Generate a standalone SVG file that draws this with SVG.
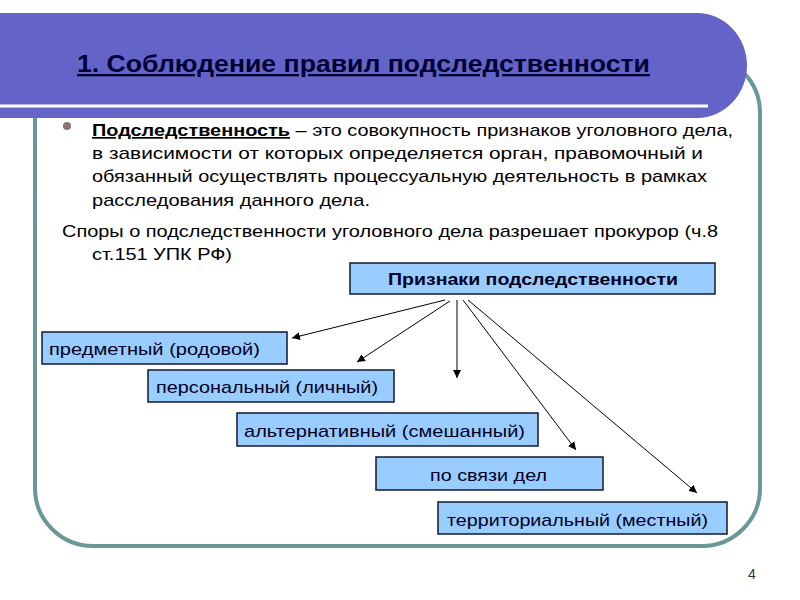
<svg xmlns="http://www.w3.org/2000/svg" width="800" height="600" viewBox="0 0 800 600">
<defs>
<style>
.body{font-family:"Liberation Sans",Arial,sans-serif;font-size:17px;fill:#000}
.box rect{fill:#99CCFF;stroke:#101830;stroke-width:1.5}
.box text{font-family:"Liberation Sans",Arial,sans-serif;font-size:17px;fill:#000022}
.conn path{fill:none;stroke:#000;stroke-width:1}
</style>
<marker id="ah" viewBox="0 0 10 10" refX="10" refY="5" markerWidth="8" markerHeight="8" markerUnits="userSpaceOnUse" orient="auto">
<path d="M0,0 L10,5 L0,10 Z" fill="#000"/>
</marker>
</defs>
<rect width="800" height="600" fill="#fff"/>
<rect id="frame" x="35" y="55" width="725" height="491" rx="58" ry="58" fill="none" stroke="#6B9797" stroke-width="4"/>
<g id="titlebar">
<path d="M0,13 H697 A50,52.5 0 0 1 697,118 H0 Z" fill="#6464C8"/>
<rect x="0" y="104.5" width="708" height="3" fill="#fff"/>
<text x="77" y="72" font-family="'Liberation Sans',Arial,sans-serif" font-size="23" font-weight="bold" fill="#000033" text-decoration="underline" textLength="573" lengthAdjust="spacingAndGlyphs">1. Соблюдение правил подследственности</text>
</g>
<g id="definition">
<circle cx="67" cy="126" r="4" fill="#8C7373"/>
<text class="body" x="92" y="136" textLength="641" lengthAdjust="spacingAndGlyphs"><tspan font-weight="bold" text-decoration="underline">Подследственность</tspan> – это совокупность признаков уголовного дела,</text>
<text class="body" x="92" y="159" textLength="611" lengthAdjust="spacingAndGlyphs">в зависимости от которых определяется орган, правомочный и</text>
<text class="body" x="92" y="182" textLength="615" lengthAdjust="spacingAndGlyphs">обязанный осуществлять процессуальную деятельность в рамках</text>
<text class="body" x="92" y="206" textLength="278" lengthAdjust="spacingAndGlyphs">расследования данного дела.</text>
<text class="body" x="62" y="237" textLength="656" lengthAdjust="spacingAndGlyphs">Споры о подследственности уголовного дела разрешает прокурор (ч.8</text>
<text class="body" x="92" y="260" textLength="140" lengthAdjust="spacingAndGlyphs">ст.151 УПК РФ)</text>
</g>
<g id="main" class="box">
<rect x="350" y="263" width="365" height="31"/>
<text x="388" y="285" font-weight="bold" textLength="290" lengthAdjust="spacingAndGlyphs">Признаки подследственности</text>
</g>
<g id="n1" class="box">
<rect x="42" y="332" width="245" height="32"/>
<text x="49" y="355" textLength="211" lengthAdjust="spacingAndGlyphs">предметный (родовой)</text>
</g>
<g id="n2" class="box">
<rect x="148" y="370" width="246" height="32"/>
<text x="156" y="393" textLength="222" lengthAdjust="spacingAndGlyphs">персональный (личный)</text>
</g>
<g id="n3" class="box">
<rect x="237" y="413" width="301" height="33"/>
<text x="244" y="437" textLength="281" lengthAdjust="spacingAndGlyphs">альтернативный (смешанный)</text>
</g>
<g id="n4" class="box">
<rect x="376" y="457" width="227" height="33"/>
<text x="430" y="481" textLength="117" lengthAdjust="spacingAndGlyphs">по связи дел</text>
</g>
<g id="n5" class="box">
<rect x="438" y="502" width="289" height="32"/>
<text x="447" y="526" textLength="261" lengthAdjust="spacingAndGlyphs">территориальный (местный)</text>
</g>
<g id="connectors" class="conn">
<path d="M445,300 L292,338" marker-end="url(#ah)"/>
<path d="M450,301 L357,362" marker-end="url(#ah)"/>
<path d="M457,300 L457,378" marker-end="url(#ah)"/>
<path d="M463,300 L576,450" marker-end="url(#ah)"/>
<path d="M468,300 L697,493" marker-end="url(#ah)"/>
</g>
<text id="pagenum" x="748" y="579" font-family="'Liberation Sans',Arial,sans-serif" font-size="14" fill="#333">4</text>
</svg>
